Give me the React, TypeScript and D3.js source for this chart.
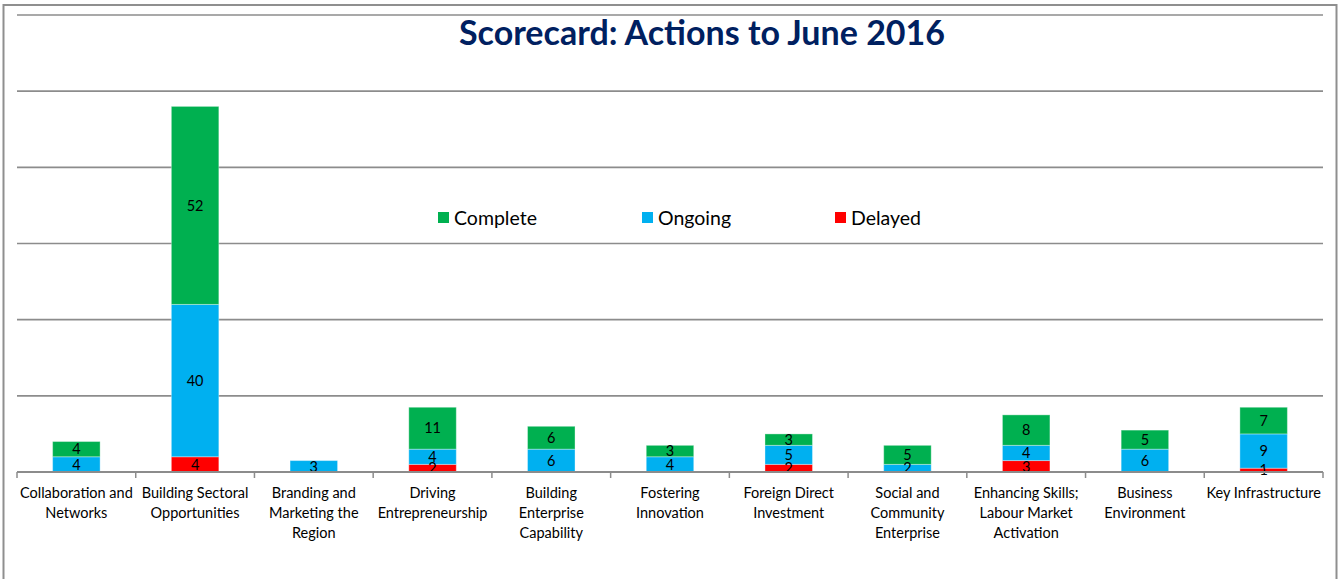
import * as d3 from "d3";
import React from "react";

// chart data
const categories = [
  "Collaboration and Networks",
  "Building Sectoral Opportunities",
  "Branding and Marketing the Region",
  "Driving Entrepreneurship",
  "Building Enterprise Capability",
  "Fostering Innovation",
  "Foreign Direct Investment",
  "Social and Community Enterprise",
  "Enhancing Skills; Labour Market Activation",
  "Business Environment",
  "Key Infrastructure",
];

// how the axis labels wrap in the original
const tickLabels = [
  ["Collaboration and", "Networks"],
  ["Building Sectoral", "Opportunities"],
  ["Branding and", "Marketing the", "Region"],
  ["Driving", "Entrepreneurship"],
  ["Building", "Enterprise", "Capability"],
  ["Fostering", "Innovation"],
  ["Foreign Direct", "Investment"],
  ["Social and", "Community", "Enterprise"],
  ["Enhancing Skills;", "Labour Market", "Activation"],
  ["Business", "Environment"],
  ["Key Infrastructure"],
];

const delayed = [0, 4, 0, 2, 0, 0, 2, 0, 3, 0, 1];
const ongoing = [4, 40, 3, 4, 6, 4, 5, 2, 4, 6, 9];
const complete = [4, 52, 0, 11, 6, 3, 3, 5, 8, 5, 7];

const seriesNames = ["Delayed", "Ongoing", "Complete"];
const seriesColors = ["#FF0000", "#00B0F0", "#00B050"];
const legendOrder = ["Complete", "Ongoing", "Delayed"];

const W = 1341;
const H = 579;
const FONT = "Lato, 'Noto Sans', sans-serif";

export default function App() {
  const x = d3.scaleBand<string>().domain(categories).range([17, 1323]).padding(0);
  const y = d3.scaleLinear().domain([0, 120]).range([472, 15]);
  const barW = x.bandwidth() * 0.4;

  const rows = categories.map((c, i) => ({
    cat: c,
    Delayed: delayed[i],
    Ongoing: ongoing[i],
    Complete: complete[i],
  }));
  const stacked = d3.stack<any>().keys(seriesNames)(rows);
  const color = d3.scaleOrdinal<string, string>().domain(seriesNames).range(seriesColors);

  const legendX: Record<string, number> = { Complete: 438, Ongoing: 642, Delayed: 835 };

  return (
    <div style={{ position: "fixed", left: 0, top: 0 }}>
      <svg width={W} height={H} style={{ display: "block", background: "#fff" }}>
        {/* outer frame */}
        <rect x={3.5} y={5} width={1333} height={H} fill="none" stroke="#8f8f8f" strokeWidth={2} />

        {/* gridlines */}
        {y.ticks(6).map((t) => (
          <line
            key={t}
            x1={17}
            x2={1323}
            y1={y(t)}
            y2={y(t)}
            stroke="#8c8c8c"
            strokeWidth={1.6}
          />
        ))}

        {/* title */}
        <text
          x={702}
          y={45}
          textAnchor="middle"
          fontFamily={FONT}
          fontWeight="bold"
          fontSize={34}
          fill="#002060"
        >
          Scorecard: Actions to June 2016
        </text>

        {/* bars */}
        {stacked.map((s) => (
          <g key={s.key} fill={color(s.key)}>
            {s.map((d, i) =>
              d[1] - d[0] > 0 ? (
                <rect
                  key={i}
                  x={(x(categories[i]) as number) + (x.bandwidth() - barW) / 2}
                  y={y(d[1])}
                  width={barW}
                  height={y(d[0]) - y(d[1])}
                  stroke="#ffffff"
                  strokeOpacity={0.35}
                  strokeWidth={1}
                />
              ) : null
            )}
          </g>
        ))}

        {/* data labels */}
        {stacked.map((s) =>
          s.map((d, i) =>
            d[1] - d[0] > 0 ? (
              <text
                key={s.key + i}
                x={(x(categories[i]) as number) + x.bandwidth() / 2}
                y={(y(d[0]) + y(d[1])) / 2}
                dy="0.36em"
                textAnchor="middle"
                fontFamily={FONT}
                fontSize={14.5}
                fill="#000"
              >
                {d[1] - d[0]}
              </text>
            ) : null
          )
        )}

        {/* x axis */}
        <line x1={17} x2={1323} y1={472} y2={472} stroke="#8c8c8c" strokeWidth={2} />
        {[...categories.map((c) => x(c) as number), 1323].map((t, i) => (
          <line key={i} x1={t} x2={t} y1={472} y2={478} stroke="#8c8c8c" strokeWidth={1.5} />
        ))}
        {tickLabels.map((lines, i) => (
          <text
            key={i}
            x={(x(categories[i]) as number) + x.bandwidth() / 2}
            y={498}
            textAnchor="middle"
            fontFamily={FONT}
            fontSize={14.5}
            fill="#000"
          >
            {lines.map((l, j) => (
              <tspan key={j} x={(x(categories[i]) as number) + x.bandwidth() / 2} dy={j === 0 ? 0 : 20}>
                {l}
              </tspan>
            ))}
          </text>
        ))}

        {/* legend */}
        {legendOrder.map((k) => (
          <g key={k}>
            <rect x={legendX[k]} y={212} width={11} height={11} fill={color(k)} />
            <text x={legendX[k] + 16} y={225} fontFamily={FONT} fontSize={19.5} fill="#000">
              {k}
            </text>
          </g>
        ))}
      </svg>
    </div>
  );
}
